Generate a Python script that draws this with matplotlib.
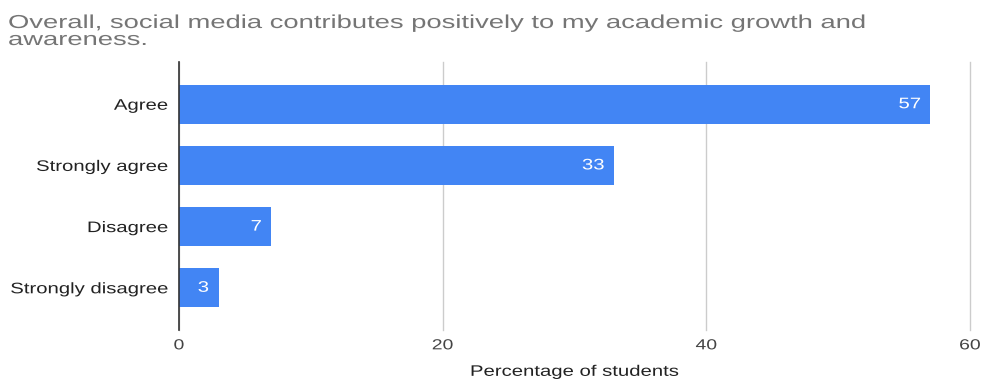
import matplotlib
matplotlib.use("Agg")
import matplotlib.pyplot as plt
from matplotlib.patheffects import AbstractPathEffect
from matplotlib.transforms import Affine2D

# survey answers, percentage of students
answers = ["Agree", "Strongly agree", "Disagree", "Strongly disagree"]
percent = [57, 33, 7, 3]
xticks = [0, 20, 40, 60]
title = ("Overall, social media contributes positively to my academic growth and\n"
         "awareness.")

BLUE = "#4285f4"
SX = 1.33  # text is drawn a bit wide


class Widen(AbstractPathEffect):
    # scale glyphs horizontally around the left / centre / right of the text
    def __init__(self, sx, anchor="left"):
        super().__init__()
        self.sx = sx
        self.anchor = anchor

    def draw_path(self, renderer, gc, tpath, affine, rgbFace=None):
        ext = tpath.get_extents()
        if self.anchor == "right":
            x0 = ext.x1
        elif self.anchor == "center":
            x0 = (ext.x0 + ext.x1) / 2
        else:
            x0 = 0
        pre = Affine2D().translate(-x0, 0).scale(self.sx, 1).translate(x0, 0)
        renderer.draw_path(gc, tpath, pre + affine, rgbFace)


plt.rcParams["font.family"] = ["Liberation Sans", "DejaVu Sans"]

fig = plt.figure(figsize=(9.86, 3.8), dpi=100)
ax = fig.add_axes([179 / 986, 1 - 330 / 380, (970 - 179) / 986, (330 - 62) / 380])

pos = list(range(len(answers)))
ax.barh(pos, percent, height=0.64, color=BLUE, zorder=3)
for p, v in zip(pos, percent):
    t = ax.annotate(str(v), (v, p), xytext=(-7, 0), textcoords="offset points",
                    ha="right", va="center", color="white", fontsize=11, zorder=4)
    t.set_path_effects([Widen(SX, "right")])

ax.set_xlim(0, 60)
ax.set_ylim(3.69, -0.69)
ax.set_xticks(xticks)
ax.set_xticklabels([str(x) for x in xticks])
ax.set_yticks(pos)
ax.set_yticklabels(answers)
ax.tick_params(axis="both", length=0)
ax.tick_params(axis="y", pad=8, labelsize=11, labelcolor="#222222")
ax.tick_params(axis="x", pad=6, labelsize=10.5, labelcolor="#444444")
for t in ax.get_yticklabels():
    t.set_path_effects([Widen(SX, "right")])
for t in ax.get_xticklabels():
    t.set_path_effects([Widen(SX, "center")])

ax.grid(axis="x", color="#cccccc", linewidth=1, zorder=0)
for gl in ax.get_xgridlines():
    gl.set_clip_on(False)
for s in ["top", "right", "bottom"]:
    ax.spines[s].set_visible(False)
ax.spines["left"].set_color("#333333")
ax.spines["left"].set_linewidth(1.2)
ax.spines["left"].set_zorder(5)

xl = ax.set_xlabel("Percentage of students", fontsize=11, color="#222222", labelpad=9)
xl.set_path_effects([Widen(SX, "center")])

tt = fig.text(8 / 986, 1 - 15 / 380, title, ha="left", va="top", fontsize=13.5,
              color="#757575", linespacing=1.0)
tt.set_path_effects([Widen(1.46, "left")])

fig.savefig("out.png", dpi=100)
